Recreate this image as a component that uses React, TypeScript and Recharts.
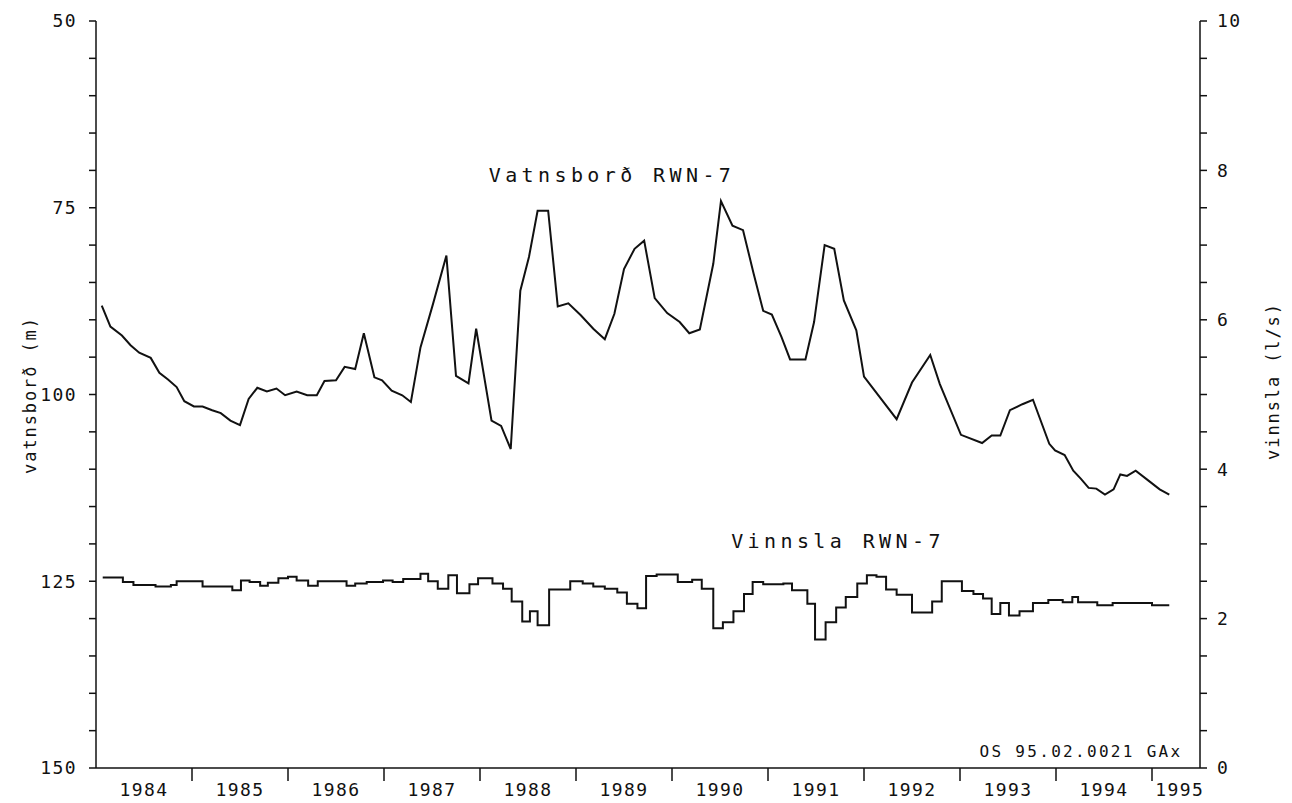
import React from 'react';
import { LineChart, Line, XAxis, YAxis } from 'recharts';

// Vatnsborð RWN-7 (m below surface)
const levelYears = [
  1984.06, 1984.15, 1984.27, 1984.36, 1984.45, 1984.57, 1984.66, 1984.75, 1984.84, 1984.92,
  1985.02, 1985.11, 1985.21, 1985.3, 1985.4, 1985.5, 1985.59, 1985.68, 1985.78, 1985.88,
  1985.97, 1986.09, 1986.2, 1986.3, 1986.38, 1986.5, 1986.59, 1986.7, 1986.79, 1986.9,
  1986.98, 1987.08, 1987.19, 1987.28, 1987.38, 1987.51, 1987.65, 1987.75, 1987.88, 1987.96,
  1988.12, 1988.22, 1988.32, 1988.42, 1988.51, 1988.6, 1988.71, 1988.81, 1988.92, 1989.05,
  1989.18, 1989.3, 1989.4, 1989.5, 1989.61, 1989.71, 1989.82, 1989.95, 1990.08, 1990.18,
  1990.29, 1990.43, 1990.51, 1990.63, 1990.74, 1990.85, 1990.95, 1991.04, 1991.14, 1991.23,
  1991.39, 1991.48, 1991.59, 1991.69, 1991.79, 1991.92, 1992.0, 1992.34, 1992.5, 1992.69,
  1992.79, 1993.01, 1993.23, 1993.33, 1993.42, 1993.52, 1993.65, 1993.76, 1993.93, 1993.99,
  1994.09, 1994.18, 1994.26, 1994.34, 1994.42, 1994.51, 1994.6, 1994.67, 1994.74, 1994.83,
  1994.98, 1995.08, 1995.18,
];
const levelValues = [
  88.1, 90.9, 92.1, 93.4, 94.4, 95.1, 97.1, 98.0, 99.0, 100.9,
  101.6, 101.6, 102.1, 102.5, 103.5, 104.1, 100.6, 99.1, 99.6, 99.2,
  100.1, 99.6, 100.1, 100.1, 98.2, 98.1, 96.3, 96.6, 91.8, 97.7,
  98.1, 99.5, 100.1, 101.0, 93.7, 87.9, 81.4, 97.5, 98.5, 91.2,
  103.5, 104.2, 107.3, 86.1, 81.6, 75.4, 75.4, 88.2, 87.8, 89.4,
  91.2, 92.6, 89.2, 83.2, 80.5, 79.4, 87.1, 89.1, 90.3, 91.8,
  91.3, 82.5, 74.1, 77.4, 78.0, 83.8, 88.8, 89.3, 92.3, 95.3,
  95.3, 90.3, 80.0, 80.5, 87.4, 91.4, 97.6, 103.3, 98.4, 94.7,
  98.6, 105.4, 106.5, 105.5, 105.5, 102.1, 101.3, 100.7, 106.6, 107.5,
  108.1, 110.2, 111.3, 112.5, 112.6, 113.4, 112.7, 110.7, 110.9, 110.2,
  111.7, 112.7, 113.4,
];

// Vinnsla RWN-7 (l/s), start of each step
const pumpYears = [
  1984.07, 1984.28, 1984.39, 1984.62, 1984.78, 1984.84, 1985.11, 1985.42, 1985.51, 1985.6,
  1985.71, 1985.79, 1985.9, 1986.0, 1986.09, 1986.21, 1986.31, 1986.61, 1986.7, 1986.82,
  1986.99, 1987.09, 1987.2, 1987.38, 1987.46, 1987.56, 1987.67, 1987.76, 1987.89, 1987.98,
  1988.13, 1988.24, 1988.33, 1988.44, 1988.52, 1988.6, 1988.72, 1988.94, 1989.07, 1989.18,
  1989.3, 1989.43, 1989.53, 1989.64, 1989.73, 1989.84, 1990.06, 1990.21, 1990.31, 1990.43,
  1990.53, 1990.64, 1990.75, 1990.84, 1990.95, 1991.16, 1991.25, 1991.41, 1991.49, 1991.6,
  1991.71, 1991.81, 1991.93, 1992.03, 1992.13, 1992.23, 1992.34, 1992.5, 1992.71, 1992.81,
  1993.02, 1993.14, 1993.24, 1993.33, 1993.42, 1993.51, 1993.62, 1993.76, 1993.92, 1994.07,
  1994.17, 1994.23, 1994.43, 1994.59, 1995.0, 1995.18,
];
const pumpValues = [
  2.55, 2.49, 2.45, 2.43, 2.45, 2.5, 2.43, 2.38, 2.51, 2.49,
  2.44, 2.48, 2.54, 2.56, 2.51, 2.44, 2.5, 2.44, 2.47, 2.49,
  2.51, 2.49, 2.53, 2.6, 2.5, 2.4, 2.58, 2.34, 2.46, 2.54,
  2.47, 2.4, 2.23, 1.96, 2.1, 1.91, 2.39, 2.5, 2.47, 2.43,
  2.4, 2.35, 2.2, 2.14, 2.57, 2.59, 2.49, 2.52, 2.4, 1.87,
  1.95, 2.1, 2.33, 2.49, 2.46, 2.47, 2.38, 2.2, 1.72, 1.95,
  2.15, 2.29, 2.47, 2.58, 2.56, 2.39, 2.32, 2.08, 2.23, 2.5,
  2.37, 2.33, 2.27, 2.06, 2.21, 2.04, 2.1, 2.21, 2.25, 2.22,
  2.29, 2.22, 2.18, 2.21, 2.18, 2.18,
];

const yearLabels = ['1984', '1985', '1986', '1987', '1988', '1989', '1990', '1991', '1992', '1993', '1994', '1995'];
const yearBounds = [1985, 1986, 1987, 1988, 1989, 1990, 1991, 1992, 1993, 1994, 1995];
const leftTicks = [50, 55, 60, 65, 70, 75, 80, 85, 90, 95, 100, 105, 110, 115, 120, 125, 130, 135, 140, 145, 150];
const rightTicks = [0, 0.5, 1, 1.5, 2, 2.5, 3, 3.5, 4, 4.5, 5, 5.5, 6, 6.5, 7, 7.5, 8, 8.5, 9, 9.5, 10];

const levelData = levelYears.map((t, i) => ({ t, level: levelValues[i] }));
const pumpData = pumpYears.map((t, i) => ({ t, pump: pumpValues[i] }));

// label positions: middle of each year, the last one sits in the half year shown
const labelPos = yearLabels.map((_, i) => (i === yearLabels.length - 1 ? 1995.29 : 1984.5 + i));
const bottomTicks = [...yearBounds, ...labelPos].sort((a, b) => a - b);

const FONT = '"DejaVu Sans Mono", monospace';
const INK = '#111';

const BottomTick = (props: any) => {
  const { x, y, payload } = props;
  const v = payload.value;
  if (Number.isInteger(v)) {
    return <line x1={x} y1={y} x2={x} y2={y + 13} stroke={INK} strokeWidth={1.5} />;
  }
  const idx = labelPos.indexOf(v);
  return (
    <text x={x} y={y + 28} textAnchor="middle" fontFamily={FONT} fontSize={18} letterSpacing={1.4} fill={INK}>
      {yearLabels[idx]}
    </text>
  );
};

const LeftTick = (props: any) => {
  const { x, y, payload } = props;
  if (payload.value % 25 !== 0) return <g />;
  return (
    <text x={x} y={y} dy="0.36em" textAnchor="end" fontFamily={FONT} fontSize={18} letterSpacing={1.4} fill={INK}>
      {payload.value}
    </text>
  );
};

const RightTick = (props: any) => {
  const { x, y, payload } = props;
  if (payload.value % 2 !== 0) return <g />;
  return (
    <text x={x} y={y} dy="0.36em" textAnchor="start" fontFamily={FONT} fontSize={18} letterSpacing={1.4} fill={INK}>
      {payload.value}
    </text>
  );
};

const note = (left: number, top: number, size: number, spacing: number, rotate = 0): React.CSSProperties => ({
  position: 'absolute',
  left,
  top,
  transform: `translate(-50%, -50%) rotate(${rotate}deg)`,
  fontFamily: FONT,
  fontSize: size,
  letterSpacing: spacing,
  color: INK,
  whiteSpace: 'nowrap',
  lineHeight: 1,
});

export default function App() {
  return (
    <div style={{ position: 'absolute', left: 0, top: 0, width: 1292, height: 803, background: '#fff' }}>
      <LineChart width={1292} height={803} margin={{ top: 21, right: 32, bottom: 0, left: 36 }}>
        <XAxis
          xAxisId="bottom"
          type="number"
          dataKey="t"
          domain={[1984, 1995.5]}
          allowDataOverflow
          ticks={bottomTicks}
          interval={0}
          height={35}
          tickSize={0}
          tickMargin={0}
          tickLine={false}
          axisLine={{ stroke: INK, strokeWidth: 1.5 }}
          tick={BottomTick}
        />
        <XAxis
          xAxisId="top"
          orientation="top"
          type="number"
          dataKey="t"
          domain={[1984, 1995.5]}
          allowDataOverflow
          ticks={yearBounds}
          interval={0}
          height={0}
          mirror
          tickSize={13}
          tick={false}
          tickLine={{ stroke: INK, strokeWidth: 1.5 }}
          axisLine={{ stroke: INK, strokeWidth: 1.5 }}
        />
        <YAxis
          yAxisId="left"
          domain={[50, 150]}
          reversed
          allowDataOverflow
          ticks={leftTicks}
          interval={0}
          width={60}
          tickSize={7}
          tickMargin={12}
          tickLine={{ stroke: INK, strokeWidth: 1.5 }}
          axisLine={{ stroke: INK, strokeWidth: 1.5 }}
          tick={LeftTick}
        />
        <YAxis
          yAxisId="right"
          orientation="right"
          domain={[0, 10]}
          allowDataOverflow
          ticks={rightTicks}
          interval={0}
          width={60}
          tickSize={7}
          tickMargin={10}
          tickLine={{ stroke: INK, strokeWidth: 1.5 }}
          axisLine={{ stroke: INK, strokeWidth: 1.5 }}
          tick={RightTick}
        />
        <Line
          xAxisId="bottom"
          yAxisId="left"
          data={levelData}
          dataKey="level"
          type="linear"
          stroke={INK}
          strokeWidth={2}
          dot={false}
          isAnimationActive={false}
        />
        <Line
          xAxisId="bottom"
          yAxisId="right"
          data={pumpData}
          dataKey="pump"
          type="stepAfter"
          stroke={INK}
          strokeWidth={2}
          dot={false}
          isAnimationActive={false}
        />
      </LineChart>
      <div style={note(612, 175, 20, 4.4)}>Vatnsborð RWN-7</div>
      <div style={note(838, 541, 20, 4.4)}>Vinnsla RWN-7</div>
      <div style={note(1081, 752, 16, 2.3)}>OS 95.02.0021 GAx</div>
      <div style={note(30, 395, 17, 1.9, -90)}>vatnsborð (m)</div>
      <div style={note(1273, 381, 17, 1.9, -90)}>vinnsla (l/s)</div>
    </div>
  );
}
